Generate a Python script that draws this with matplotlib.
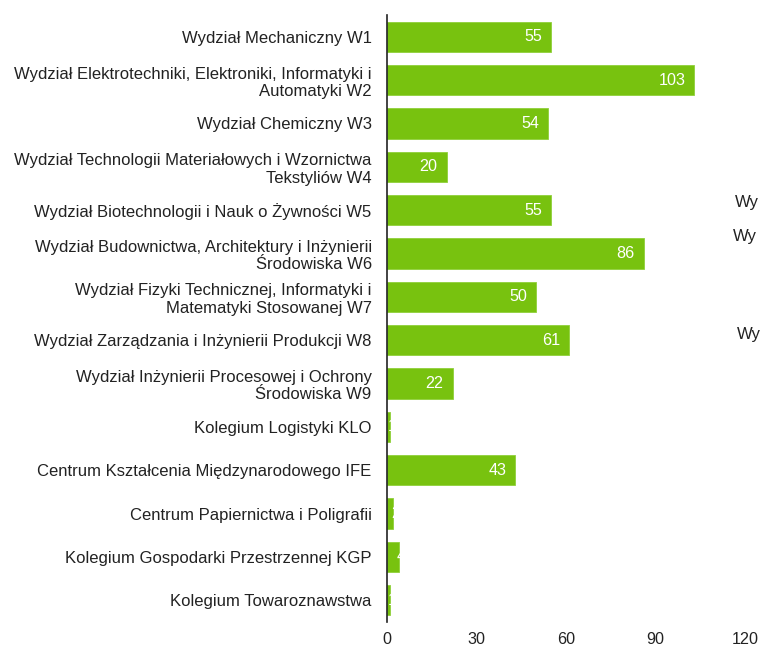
import matplotlib
matplotlib.use("Agg")
import matplotlib.pyplot as plt

categories = [
    "Wydział Mechaniczny W1",
    "Wydział Elektrotechniki, Elektroniki, Informatyki i\nAutomatyki W2",
    "Wydział Chemiczny W3",
    "Wydział Technologii Materiałowych i Wzornictwa\nTekstyliów W4",
    "Wydział Biotechnologii i Nauk o Żywności W5",
    "Wydział Budownictwa, Architektury i Inżynierii\nŚrodowiska W6",
    "Wydział Fizyki Technicznej, Informatyki i\nMatematyki Stosowanej W7",
    "Wydział Zarządzania i Inżynierii Produkcji W8",
    "Wydział Inżynierii Procesowej i Ochrony\nŚrodowiska W9",
    "Kolegium Logistyki KLO",
    "Centrum Kształcenia Międzynarodowego IFE",
    "Centrum Papiernictwa i Poligrafii",
    "Kolegium Gospodarki Przestrzennej KGP",
    "Kolegium Towaroznawstwa",
]
values = [55, 103, 54, 20, 55, 86, 50, 61, 22, 1, 43, 2, 4, 1]
xticks = [0, 30, 60, 90, 120]
side_texts = ["Wy", "Wy", "Wy"]

plt.rcParams['font.family'] = ['Liberation Sans', 'DejaVu Sans']
color = '#78c20f'
fs = 12

fig = plt.figure(figsize=(7.6, 6.48), dpi=100)
ax = fig.add_axes([387/760, 1-622/648, (745-387)/760, (622-15)/648])

y = list(range(len(categories)))
ax.barh(y, values, height=0.7, color=color, edgecolor='#8fd03a', linewidth=0.6, zorder=1)
ax.set_ylim(len(categories)-0.5, -0.5)
ax.set_xlim(0, 120)
ax.set_xticks(xticks)
ax.set_xticklabels([str(t) for t in xticks], fontsize=11.6, color='#222222')
ax.set_yticks(y)
ax.set_yticklabels(categories, fontsize=fs, color='#222222', ha='right', linespacing=1.2)
ax.tick_params(axis='x', length=0, pad=7)
ax.tick_params(axis='y', length=0, pad=11)
for s in ['top', 'right', 'bottom']:
    ax.spines[s].set_visible(False)
ax.spines['left'].set_color('#222222')
ax.spines['left'].set_linewidth(1.2)
ax.spines['left'].set_zorder(3)

for yi, v in zip(y, values):
    if v >= 10:
        ax.annotate(str(v), xy=(v, yi), xytext=(-6.5, 0), textcoords='offset points',
                    ha='right', va='center', color='white', fontsize=11.6,
                    annotation_clip=False, zorder=2)
    else:
        ax.annotate(str(v), xy=(v, yi), xytext=(-1.5, 0), textcoords='offset points',
                    ha='left', va='center', color='white', fontsize=11.6,
                    annotation_clip=False, zorder=2)

for txt, px, py in zip(side_texts, [735, 733, 737], [203, 237, 335]):
    fig.text(px/760, 1-py/648, txt, ha='left', va='center', fontsize=fs, color='#222222')

fig.savefig("out.png", dpi=100)
